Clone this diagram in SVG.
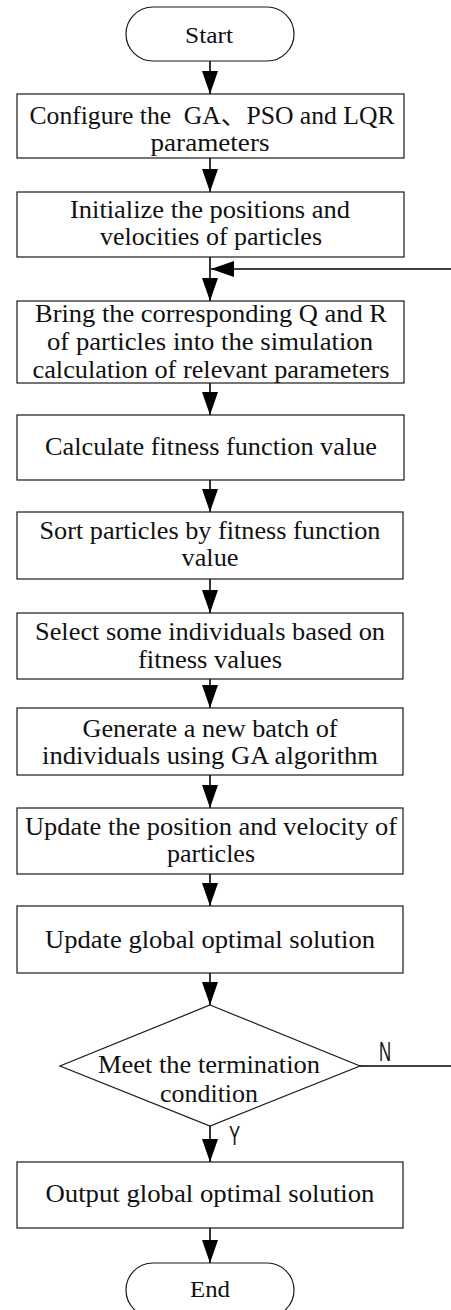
<svg xmlns="http://www.w3.org/2000/svg" width="451" height="1310" viewBox="0 0 451 1310">
  <style>
    .shape { fill: #ffffff; stroke: #1a1a1a; stroke-width: 1.2; }
    .txt { font-family: "Liberation Serif", "Noto Sans CJK SC", serif; font-size: 25.5px; fill: #111111; text-anchor: middle; }
    .term { font-size: 24px; }
    .conn { fill: none; stroke: #000000; stroke-width: 1.6; }
    .lbl { font-family: "Liberation Sans", sans-serif; font-size: 27px; fill: #111111; }
  </style>
  <defs>
    <marker id="arrow" markerUnits="userSpaceOnUse" markerWidth="24" markerHeight="18" refX="23" refY="8" orient="auto">
      <path d="M0,0 L23,8 L0,16 Z" fill="#000000"/>
    </marker>
  </defs>

  <rect width="451" height="1310" fill="#ffffff"/>

  <!-- connectors -->
  <g id="connectors">
    <path class="conn" d="M210,61 V94" marker-end="url(#arrow)"/>
    <path class="conn" d="M210,158 V192" marker-end="url(#arrow)"/>
    <path class="conn" d="M210,257 V301" marker-end="url(#arrow)"/>
    <path class="conn" d="M210,383 V415" marker-end="url(#arrow)"/>
    <path class="conn" d="M210,480 V512" marker-end="url(#arrow)"/>
    <path class="conn" d="M210,579 V613" marker-end="url(#arrow)"/>
    <path class="conn" d="M210,679 V708" marker-end="url(#arrow)"/>
    <path class="conn" d="M210,775 V808" marker-end="url(#arrow)"/>
    <path class="conn" d="M210,874 V906" marker-end="url(#arrow)"/>
    <path class="conn" d="M210,973 V1005" marker-end="url(#arrow)"/>
    <path class="conn" d="M210,1126 V1162" marker-end="url(#arrow)"/>
    <path class="conn" d="M210,1228 V1263" marker-end="url(#arrow)"/>
    <!-- loop back when the condition is not met -->
    <path class="conn" d="M360,1066 H457 V269 H211" marker-end="url(#arrow)"/>
    <text class="lbl" transform="translate(379,1061) scale(0.62,1)">N</text>
    <text class="lbl" transform="translate(229,1145) scale(0.62,1)">Y</text>
  </g>

  <g id="start">
    <rect class="shape" x="126" y="7" width="168" height="54" rx="27" ry="27"/>
    <text class="txt term" x="209" y="43" textLength="48" lengthAdjust="spacingAndGlyphs">Start</text>
  </g>

  <g id="configure">
    <rect class="shape" x="17" y="94" width="387" height="64"/>
    <text class="txt" x="212" y="124" textLength="365" lengthAdjust="spacingAndGlyphs">Configure the &#160;GA、PSO and LQR</text>
    <text class="txt" x="210" y="151" textLength="119" lengthAdjust="spacingAndGlyphs">parameters</text>
  </g>

  <g id="initialize">
    <rect class="shape" x="17" y="192" width="387" height="65"/>
    <text class="txt" x="210" y="218" textLength="280" lengthAdjust="spacingAndGlyphs">Initialize the positions and</text>
    <text class="txt" x="211" y="245" textLength="222" lengthAdjust="spacingAndGlyphs">velocities of particles</text>
  </g>

  <g id="simulate">
    <rect class="shape" x="17" y="301" width="387" height="82"/>
    <text class="txt" x="211" y="322" textLength="352" lengthAdjust="spacingAndGlyphs">Bring the corresponding Q and R</text>
    <text class="txt" x="210" y="350" textLength="326" lengthAdjust="spacingAndGlyphs">of particles into the simulation</text>
    <text class="txt" x="211" y="378" textLength="357" lengthAdjust="spacingAndGlyphs">calculation of relevant parameters</text>
  </g>

  <g id="fitness">
    <rect class="shape" x="17" y="415" width="387" height="65"/>
    <text class="txt" x="211" y="455" textLength="332" lengthAdjust="spacingAndGlyphs">Calculate fitness function value</text>
  </g>

  <g id="sort">
    <rect class="shape" x="17" y="512" width="386" height="67"/>
    <text class="txt" x="210" y="539" textLength="341" lengthAdjust="spacingAndGlyphs">Sort particles by fitness function</text>
    <text class="txt" x="210" y="566" textLength="57" lengthAdjust="spacingAndGlyphs">value</text>
  </g>

  <g id="select">
    <rect class="shape" x="17" y="613" width="386" height="66"/>
    <text class="txt" x="210" y="640" textLength="350" lengthAdjust="spacingAndGlyphs">Select some individuals based on</text>
    <text class="txt" x="210" y="668" textLength="144" lengthAdjust="spacingAndGlyphs">fitness values</text>
  </g>

  <g id="generate">
    <rect class="shape" x="17" y="708" width="386" height="67"/>
    <text class="txt" x="210" y="737" textLength="255" lengthAdjust="spacingAndGlyphs">Generate a new batch of</text>
    <text class="txt" x="210" y="764" textLength="336" lengthAdjust="spacingAndGlyphs">individuals using GA algorithm</text>
  </g>

  <g id="update-particles">
    <rect class="shape" x="17" y="808" width="386" height="66"/>
    <text class="txt" x="211" y="835" textLength="372" lengthAdjust="spacingAndGlyphs">Update the position and velocity of</text>
    <text class="txt" x="211" y="862" textLength="88" lengthAdjust="spacingAndGlyphs">particles</text>
  </g>

  <g id="update-global">
    <rect class="shape" x="17" y="906" width="386" height="67"/>
    <text class="txt" x="210" y="948" textLength="330" lengthAdjust="spacingAndGlyphs">Update global optimal solution</text>
  </g>

  <g id="terminate">
    <polygon class="shape" points="210,1005 360,1066 210,1126 60,1066"/>
    <text class="txt" x="209" y="1073" textLength="222" lengthAdjust="spacingAndGlyphs">Meet the termination</text>
    <text class="txt" x="209" y="1102" textLength="98" lengthAdjust="spacingAndGlyphs">condition</text>
  </g>

  <g id="output">
    <rect class="shape" x="17" y="1162" width="386" height="66"/>
    <text class="txt" x="210" y="1202" textLength="329" lengthAdjust="spacingAndGlyphs">Output global optimal solution</text>
  </g>

  <g id="end">
    <rect class="shape" x="126" y="1263" width="168" height="54" rx="27" ry="27"/>
    <text class="txt term" x="210" y="1297" textLength="40" lengthAdjust="spacingAndGlyphs">End</text>
  </g>
</svg>
